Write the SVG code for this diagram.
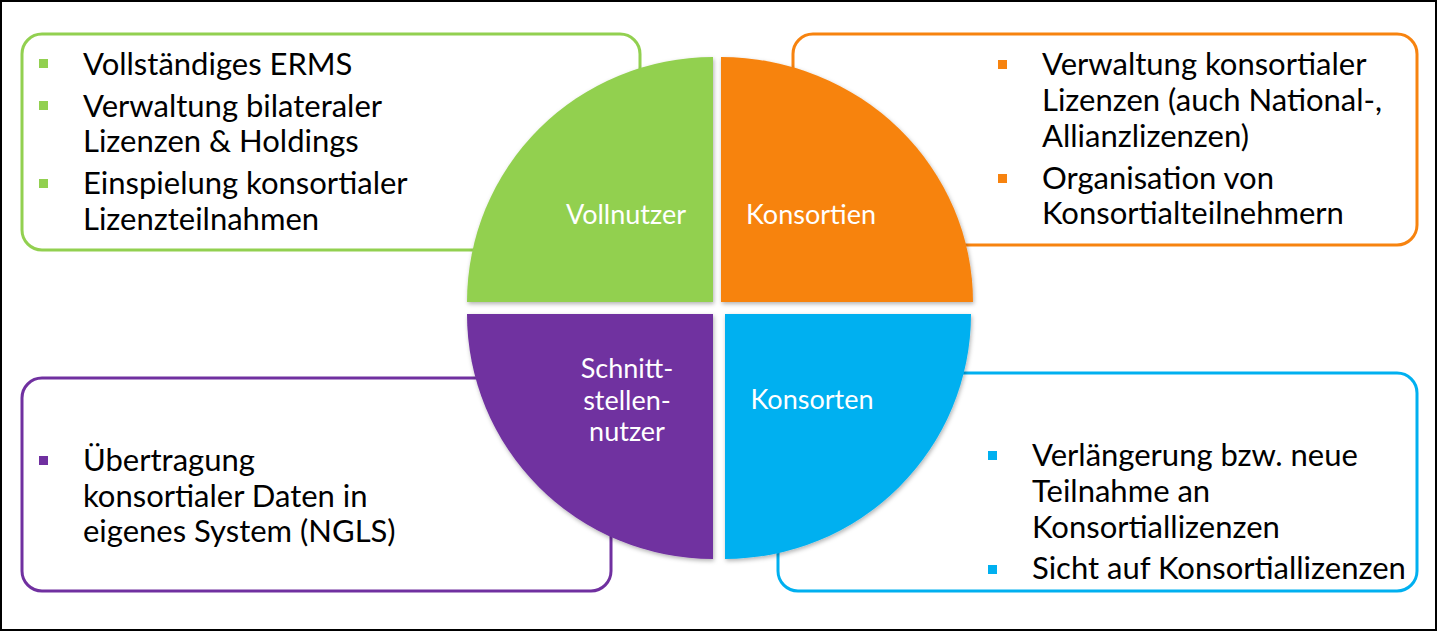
<svg xmlns="http://www.w3.org/2000/svg" width="1438" height="632" viewBox="0 0 1438 632">
<defs>
<style>
.box{fill:#ffffff;stroke-width:3}
.t{font-family:Lato,"Liberation Sans",sans-serif;font-size:31px;fill:#000000}
.lbl{font-family:Lato,"Liberation Sans",sans-serif;font-size:27px;fill:#ffffff}
</style>
<filter id="sh" x="-10%" y="-10%" width="130%" height="130%">
<feDropShadow dx="1" dy="2" stdDeviation="2" flood-color="#000000" flood-opacity="0.3"/>
</filter>
</defs>
<rect x="0" y="0" width="1438" height="632" fill="#ffffff"/>
<rect x="1" y="1" width="1435" height="629" fill="none" stroke="#000000" stroke-width="2"/>

<g id="box-vollnutzer">
<rect class="box" x="22" y="34" width="618" height="216" rx="20" stroke="#92D050"/>
<rect x="39" y="59" width="9" height="9" fill="#92D050"/>
<rect x="39" y="101" width="9" height="9" fill="#92D050"/>
<rect x="39" y="179" width="9" height="9" fill="#92D050"/>
<text class="t" x="83" y="75">Vollständiges ERMS</text>
<text class="t" x="83" y="117">Verwaltung bilateraler</text>
<text class="t" x="83" y="152">Lizenzen &amp; Holdings</text>
<text class="t" x="83" y="194">Einspielung konsortialer</text>
<text class="t" x="83" y="230">Lizenzteilnahmen</text>
</g>

<g id="box-konsortien">
<rect class="box" x="793" y="34" width="624" height="211" rx="20" stroke="#F7830F"/>
<rect x="998" y="60" width="9" height="9" fill="#F7830F"/>
<rect x="998" y="174" width="9" height="9" fill="#F7830F"/>
<text class="t" x="1042" y="75">Verwaltung konsortialer</text>
<text class="t" x="1042" y="111">Lizenzen (auch National-,</text>
<text class="t" x="1042" y="147">Allianzlizenzen)</text>
<text class="t" x="1042" y="189">Organisation von</text>
<text class="t" x="1042" y="224">Konsortialteilnehmern</text>
</g>

<g id="box-schnittstellennutzer">
<rect class="box" x="22" y="378" width="589" height="213" rx="20" stroke="#7030A0"/>
<rect x="39" y="456" width="9" height="9" fill="#7030A0"/>
<text class="t" x="83" y="471">Übertragung</text>
<text class="t" x="83" y="507">konsortialer Daten in</text>
<text class="t" x="83" y="542">eigenes System (NGLS)</text>
</g>

<g id="box-konsorten">
<rect class="box" x="778" y="373" width="639" height="218" rx="20" stroke="#00B0F0"/>
<rect x="988" y="451" width="9" height="9" fill="#00B0F0"/>
<rect x="988" y="565" width="9" height="9" fill="#00B0F0"/>
<text class="t" x="1032" y="466">Verlängerung bzw. neue</text>
<text class="t" x="1032" y="502">Teilnahme an</text>
<text class="t" x="1032" y="538">Konsortiallizenzen</text>
<text class="t" x="1032" y="579">Sicht auf Konsortiallizenzen</text>
</g>

<g id="quadrant-vollnutzer">
<path d="M713,302 L467,302 A246,245 0 0 1 713,57 Z" fill="#92D050" filter="url(#sh)"/>
<text class="lbl" x="626" y="224" text-anchor="middle">Vollnutzer</text>
</g>
<g id="quadrant-konsortien">
<path d="M721,302 L721,57 A252,245 0 0 1 973,302 Z" fill="#F7830F" filter="url(#sh)"/>
<text class="lbl" x="811" y="224" text-anchor="middle">Konsortien</text>
</g>
<g id="quadrant-schnittstellennutzer">
<path d="M713,314 L713,559 A246,245 0 0 1 467,314 Z" fill="#7030A0" filter="url(#sh)"/>
<text class="lbl" x="627" y="378" text-anchor="middle">Schnitt-</text>
<text class="lbl" x="627" y="410" text-anchor="middle">stellen-</text>
<text class="lbl" x="627" y="441" text-anchor="middle">nutzer</text>
</g>
<g id="quadrant-konsorten">
<path d="M725,314 L971,314 A246,245 0 0 1 725,559 Z" fill="#00B0F0" filter="url(#sh)"/>
<text class="lbl" x="812" y="409" text-anchor="middle">Konsorten</text>
</g>
<g id="connectors"/>
</svg>
